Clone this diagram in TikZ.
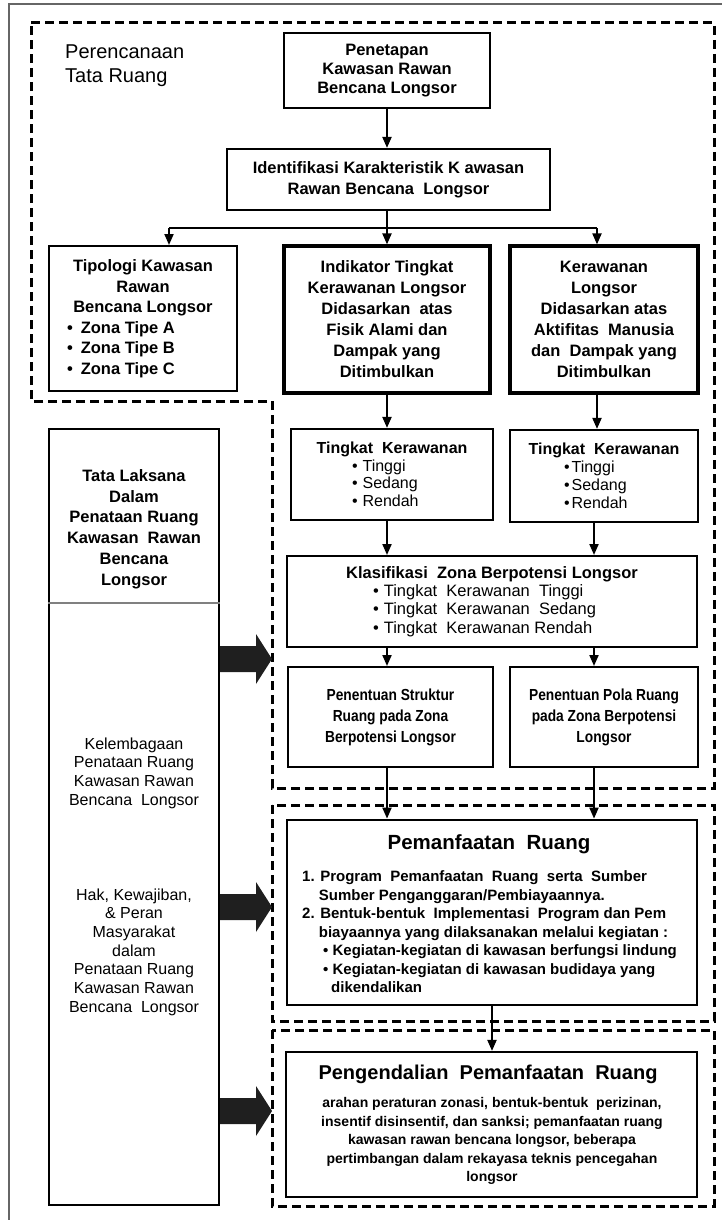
\documentclass[tikz,border=0pt]{standalone}
\usepackage{fontspec}
\setmainfont{Liberation Sans}
\newfontfamily\narrowsf[FakeStretch=0.86]{Liberation Sans}
\usetikzlibrary{arrows.meta}

\newcommand{\bulletrow}[3]{\makebox[#1pt][l]{\textbullet\hspace{#2pt}#3}}

\tikzset{
  box/.style={draw,line width=2.2pt,inner sep=0pt,align=center,
    font=\bfseries\fontsize{16.5}{21}\selectfont},
  heavybox/.style={box,line width=3.2pt},
  zone/.style={line width=3pt,dash pattern=on 9pt off 5pt},
  flow/.style={->,line width=2pt},
  blockarrow/.style={fill=black!88},
}

\begin{document}
\begin{tikzpicture}[x=1pt,y=-1pt,>={Triangle[length=11pt,width=9pt]},line cap=butt]
\useasboundingbox (0,0) rectangle (722,1220);
% frame and zones
\draw[gray!80!black,line width=1.8pt] (9,1220) -- (9,4) -- (722,4);
\draw[zone] (31,23) -- (714,23) -- (714,788) -- (272,788) -- (272,401) -- (31,401) -- cycle;
\draw[zone] (272,805) rectangle (714,1021);
\draw[zone] (272,1030) rectangle (714,1206);
\node[anchor=west,align=left,inner sep=0pt,font=\fontsize{20}{24}\selectfont] (perencanaan) at (65,66) {Perencanaan\\Tata Ruang};

% perencanaan
\node[box,minimum width=206,minimum height=75,font=\bfseries\fontsize{16.5}{19}\selectfont] (penetapan) at (387,70.5) {Penetapan\\Kawasan Rawan\\Bencana Longsor};
\node[box,minimum width=323,minimum height=61] (identifikasi) at (388.5,179.5) {Identifikasi Karakteristik K awasan\\Rawan Bencana\ \ Longsor};
\node[box,line width=2pt,minimum width=188,minimum height=145,font=\bfseries\fontsize{16.5}{20.5}\selectfont] (tipologi) at (143,318.5)
  {Tipologi Kawasan\\Rawan\\Bencana Longsor\\\bulletrow{152}{8}{Zona Tipe A}\\\bulletrow{152}{8}{Zona Tipe B}\\\bulletrow{152}{8}{Zona Tipe C}};
\node[heavybox,minimum width=206,minimum height=147] (indikator) at (387,319.5)
  {Indikator Tingkat\\Kerawanan Longsor\\Didasarkan\ \ atas\\Fisik Alami dan\\Dampak yang\\Ditimbulkan};
\node[heavybox,minimum width=188,minimum height=147] (kerawanan) at (604,319.5)
  {Kerawanan\\Longsor\\Didasarkan atas\\Aktifitas\ \ Manusia\\dan\ \ Dampak yang\\Ditimbulkan};
\node[box,minimum width=202,minimum height=91,font=\fontsize{16}{17.5}\selectfont] (tingkatL) at (392,474.5)
  {\textbf{Tingkat\ \ Kerawanan}\\\bulletrow{80}{5}{Tinggi}\\\bulletrow{80}{5}{Sedang}\\\bulletrow{80}{5}{Rendah}};
\node[box,minimum width=188,minimum height=92,font=\fontsize{16}{18}\selectfont] (tingkatR) at (604,476)
  {\textbf{Tingkat\ \ Kerawanan}\\\bulletrow{80}{2}{Tinggi}\\\bulletrow{80}{2}{Sedang}\\\bulletrow{80}{2}{Rendah}};
\node[box,line width=2pt,minimum width=410,minimum height=91,font=\fontsize{16.5}{18.3}\selectfont] (klasifikasi) at (492,601.5)
  {\textbf{Klasifikasi\ \ Zona Berpotensi Longsor}\\\bulletrow{238}{5}{Tingkat\ \ Kerawanan\ \ Tinggi}\\\bulletrow{238}{5}{Tingkat\ \ Kerawanan\ \ Sedang}\\\bulletrow{238}{5}{Tingkat\ \ Kerawanan Rendah}};
\node[box,line width=2pt,minimum width=205,minimum height=100,font=\narrowsf\bfseries\fontsize{16}{21}\selectfont] (struktur) at (390.5,717)
  {Penentuan Struktur\\Ruang pada Zona\\Berpotensi Longsor};
\node[box,line width=2pt,minimum width=188,minimum height=100,font=\narrowsf\bfseries\fontsize{16}{21}\selectfont] (pola) at (604,717)
  {Penentuan Pola Ruang\\pada Zona Berpotensi\\Longsor};

% tata laksana
\node[box,minimum width=170,minimum height=776] (tatalaksana) at (134,817) {};
\coordinate (divider) at (0,603);
\draw[gray,line width=1.5pt] (tatalaksana.west |- divider) -- (tatalaksana.east |- divider);
\node[align=center,font=\bfseries\fontsize{16.5}{20.8}\selectfont] (tatajudul) at (134,529)
  {Tata Laksana\\Dalam\\Penataan Ruang\\Kawasan\ \ Rawan\\Bencana\\Longsor};
\node[align=center,font=\fontsize{16}{18.7}\selectfont] (kelembagaan) at (134,773)
  {Kelembagaan\\Penataan Ruang\\Kawasan Rawan\\Bencana\ \ Longsor};
\node[align=center,font=\fontsize{16}{18.7}\selectfont] (hak) at (134,952)
  {Hak, Kewajiban,\\\& Peran\\Masyarakat\\dalam\\Penataan Ruang\\Kawasan Rawan\\Bencana\ \ Longsor};
\foreach \ty in {659,907,1111}
  \fill[blockarrow] (tatalaksana.east |- 0,\ty-13) -- (256,\ty-13) -- (256,\ty-25) -- (272,\ty)
    -- (256,\ty+25) -- (256,\ty+13) -- (tatalaksana.east |- 0,\ty+13) -- cycle;

% pemanfaatan, pengendalian
\node[box,line width=2.8pt,minimum width=410,minimum height=185] (pemanfaatan) at (492,912.5) {};
\node[font=\bfseries\fontsize{20.5}{24}\selectfont] (pemanfaatanjudul) at (489,844) {Pemanfaatan\ \ Ruang};
\node[anchor=west,align=left,inner sep=0pt,font=\bfseries\fontsize{15}{18.5}\selectfont] (pemanfaatanisi) at (302,932)
  {1. Program\ \ Pemanfaatan\ \ Ruang\ \ serta\ \ Sumber\\
   \hspace*{16.7pt}Sumber Penganggaran/Pembiayaannya.\\
   2. Bentuk-bentuk\ \ Implementasi\ \ Program dan Pem\\
   \hspace*{16.7pt}biayaannya yang dilaksanakan melalui kegiatan :\\
   \hspace*{21pt}\textbullet\ Kegiatan-kegiatan di kawasan berfungsi lindung\\
   \hspace*{21pt}\textbullet\ Kegiatan-kegiatan di kawasan budidaya yang\\
   \hspace*{29pt}dikendalikan};
\node[box,minimum width=411,minimum height=145] (pengendalian) at (491.5,1124.5) {};
\node[font=\bfseries\fontsize{20}{24}\selectfont] (pengendalianjudul) at (488,1074) {Pengendalian\ \ Pemanfaatan\ \ Ruang};
\node[align=center,font=\bfseries\fontsize{14}{18.5}\selectfont] (pengendalianisi) at (492,1141)
  {arahan peraturan zonasi, bentuk-bentuk\ \ perizinan,\\insentif disinsentif, dan sanksi; pemanfaatan ruang\\kawasan rawan bencana longsor, beberapa\\pertimbangan dalam rekayasa teknis pencegahan\\longsor};

% connectors
\coordinate (colA) at (387,0);
\coordinate (colB) at (594,0);
\coordinate (colC) at (597,0);
\coordinate (busL) at (169,228);
\coordinate (busM) at (387,228);
\coordinate (busR) at (597,228);
\draw[flow] (penetapan.south) -- (identifikasi.north -| penetapan.south);
\draw[line width=2pt] (identifikasi.south -| busM) -- (busM);
\draw[line width=2pt] (busL) -- (busR);
\draw[flow] (busL) -- (tipologi.north -| busL);
\draw[flow] (busM) -- (indikator.north -| busM);
\draw[flow] (busR) -- (kerawanan.north -| busR);
\draw[flow] (indikator.south -| colA) -- (tingkatL.north -| colA);
\draw[flow] (kerawanan.south -| colC) -- (tingkatR.north -| colC);
\draw[flow] (tingkatL.south -| colA) -- (klasifikasi.north -| colA);
\draw[flow] (tingkatR.south -| colB) -- (klasifikasi.north -| colB);
\draw[flow] (klasifikasi.south -| colA) -- (struktur.north -| colA);
\draw[flow] (klasifikasi.south -| colB) -- (pola.north -| colB);
\draw[flow] (struktur.south -| colA) -- (pemanfaatan.north -| colA);
\draw[flow] (pola.south -| colB) -- (pemanfaatan.north -| colB);
\draw[flow] (pemanfaatan.south) -- (pengendalian.north -| pemanfaatan.south);
\end{tikzpicture}
\end{document}
